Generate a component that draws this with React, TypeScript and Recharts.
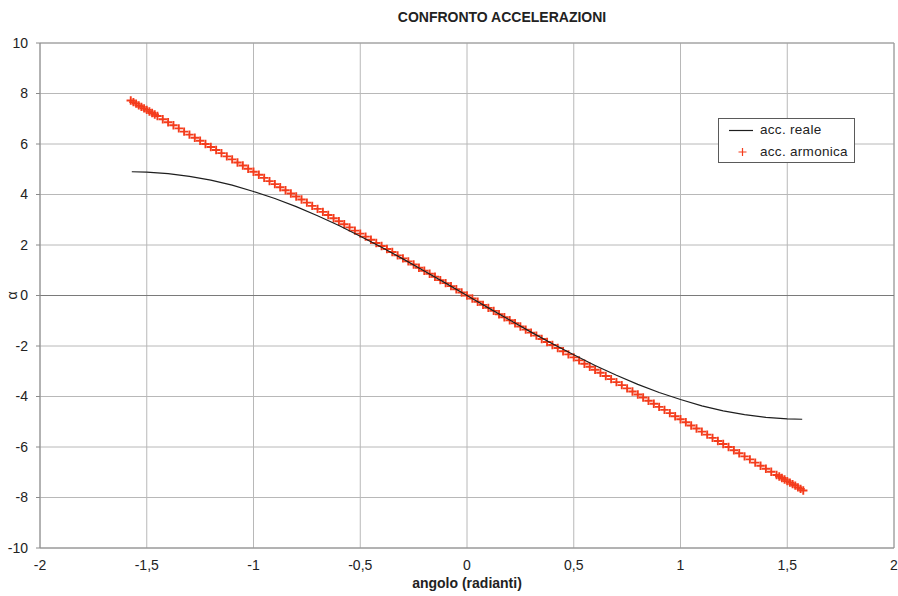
import React from 'react';
import {
  ScatterChart,
  Scatter,
  XAxis,
  YAxis,
  CartesianGrid,
  ReferenceLine,
  Legend,
  Label,
} from 'recharts';

const chartTitle = 'CONFRONTO ACCELERAZIONI';
const xAxisTitle = 'angolo (radianti)';
const yAxisTitle = 'α';
const seriesNames = ['acc. reale', 'acc. armonica'];

const xTicks = [-2, -1.5, -1, -0.5, 0, 0.5, 1, 1.5, 2];
const xTickLabels = ['-2', '-1,5', '-1', '-0,5', '0', '0,5', '1', '1,5', '2'];
const yTicks = [-10, -8, -6, -4, -2, 0, 2, 4, 6, 8, 10];
const yTickLabels = ['-10', '-8', '-6', '-4', '-2', '0', '2', '4', '6', '8', '10'];

// acc. armonica (red crosses)
const armX = [
  -1.575, -1.55, -1.525, -1.5, -1.475, -1.45, -1.425, -1.4, -1.375, -1.35, -1.325, -1.3, -1.275,
  -1.25, -1.225, -1.2, -1.175, -1.15, -1.125, -1.1, -1.075, -1.05, -1.025, -1, -0.975, -0.95,
  -0.925, -0.9, -0.875, -0.85, -0.825, -0.8, -0.775, -0.75, -0.725, -0.7, -0.675, -0.65, -0.625,
  -0.6, -0.575, -0.55, -0.525, -0.5, -0.475, -0.45, -0.425, -0.4, -0.375, -0.35, -0.325, -0.3,
  -0.275, -0.25, -0.225, -0.2, -0.175, -0.15, -0.125, -0.1, -0.075, -0.05, -0.025, 0,
  0.025, 0.05, 0.075, 0.1, 0.125, 0.15, 0.175, 0.2, 0.225, 0.25, 0.275, 0.3, 0.325, 0.35, 0.375,
  0.4, 0.425, 0.45, 0.475, 0.5, 0.525, 0.55, 0.575, 0.6, 0.625, 0.65, 0.675, 0.7, 0.725, 0.75,
  0.775, 0.8, 0.825, 0.85, 0.875, 0.9, 0.925, 0.95, 0.975, 1, 1.025, 1.05, 1.075, 1.1, 1.125,
  1.15, 1.175, 1.2, 1.225, 1.25, 1.275, 1.3, 1.325, 1.35, 1.375, 1.4, 1.425, 1.45, 1.475, 1.5,
  1.525, 1.55, 1.575,
  -1.5625, -1.5375, -1.5125, -1.4875, -1.4625, 1.4625, 1.4875, 1.5125, 1.5375, 1.5625,
];
const armY = [
  7.72, 7.6, 7.47, 7.35, 7.23, 7.11, 6.98, 6.86, 6.74, 6.62, 6.49, 6.37, 6.25, 6.13, 6.0, 5.88,
  5.76, 5.64, 5.51, 5.39, 5.27, 5.15, 5.02, 4.9, 4.78, 4.66, 4.53, 4.41, 4.29, 4.17, 4.04, 3.92,
  3.8, 3.68, 3.55, 3.43, 3.31, 3.19, 3.06, 2.94, 2.82, 2.7, 2.57, 2.45, 2.33, 2.21, 2.08, 1.96,
  1.84, 1.72, 1.59, 1.47, 1.35, 1.23, 1.1, 0.98, 0.86, 0.74, 0.61, 0.49, 0.37, 0.25, 0.12, 0,
  -0.12, -0.25, -0.37, -0.49, -0.61, -0.74, -0.86, -0.98, -1.1, -1.23, -1.35, -1.47, -1.59,
  -1.72, -1.84, -1.96, -2.08, -2.21, -2.33, -2.45, -2.57, -2.7, -2.82, -2.94, -3.06, -3.19,
  -3.31, -3.43, -3.55, -3.68, -3.8, -3.92, -4.04, -4.17, -4.29, -4.41, -4.53, -4.66, -4.78,
  -4.9, -5.02, -5.15, -5.27, -5.39, -5.51, -5.64, -5.76, -5.88, -6.0, -6.13, -6.25, -6.37,
  -6.49, -6.62, -6.74, -6.86, -6.98, -7.11, -7.23, -7.35, -7.47, -7.6, -7.72,
  7.66, 7.53, 7.41, 7.29, 7.17, -7.17, -7.29, -7.41, -7.53, -7.66,
];

// acc. reale (black line)
const realeX = [
  -1.57, -1.5, -1.4, -1.3, -1.2, -1.1, -1, -0.9, -0.8, -0.7, -0.6, -0.5, -0.4, -0.3, -0.2, -0.1,
  0, 0.1, 0.2, 0.3, 0.4, 0.5, 0.6, 0.7, 0.8, 0.9, 1, 1.1, 1.2, 1.3, 1.4, 1.5, 1.57,
];
const realeY = [
  4.9, 4.89, 4.83, 4.72, 4.57, 4.37, 4.12, 3.84, 3.52, 3.16, 2.77, 2.35, 1.91, 1.45, 0.97, 0.49,
  0, -0.49, -0.97, -1.45, -1.91, -2.35, -2.77, -3.16, -3.52, -3.84, -4.12, -4.37, -4.57, -4.72,
  -4.83, -4.89, -4.9,
];

const armData = armX.map((x, i) => ({ x, y: armY[i] }));
const realeData = realeX.map((x, i) => ({ x, y: realeY[i] }));

const RED = '#f43c1c';
const BLACK = '#1e1e1e';
const FONT = '"Liberation Sans", Arial, sans-serif';

const Cross = (props: any) => {
  const { cx, cy } = props;
  if (cx == null || cy == null) return <g />;
  const s = 4.2;
  return (
    <path
      d={`M${cx - s},${cy}H${cx + s}M${cx},${cy - s}V${cy + s}`}
      stroke={RED}
      strokeWidth={1.9}
      fill="none"
    />
  );
};

const NoDot = () => <g />;

const LegendBox = () => (
  <div
    style={{
      position: 'relative',
      width: 137,
      height: 45,
      boxSizing: 'border-box',
      border: '1px solid #5a5a5a',
      background: '#fff',
      fontFamily: FONT,
      fontSize: 13.5,
      color: '#222',
    }}
  >
    <svg width={137} height={45} style={{ position: 'absolute', left: -1, top: -1 }}>
      <line x1={11} y1={12.5} x2={35} y2={12.5} stroke={BLACK} strokeWidth={1.2} />
      <path d="M20.5,34H28.5M24.5,30V38" stroke={RED} strokeWidth={1.2} fill="none" />
    </svg>
    <span style={{ position: 'absolute', left: 41, top: 3, letterSpacing: 0.3, lineHeight: '16px' }}>
      {seriesNames[0]}
    </span>
    <span style={{ position: 'absolute', left: 41, top: 25, letterSpacing: 0.3, lineHeight: '16px' }}>
      {seriesNames[1]}
    </span>
  </div>
);

const YTitle = (props: any) => {
  const vb = props.viewBox || {};
  const cx = 12;
  const cy = (vb.y ?? 43) + (vb.height ?? 505) / 2;
  return (
    <text
      x={cx}
      y={cy}
      transform={`rotate(-90, ${cx}, ${cy})`}
      textAnchor="middle"
      dominantBaseline="central"
      fontFamily={FONT}
      fontSize={14}
      fill="#222"
    >
      {yAxisTitle}
    </text>
  );
};

export default function App() {
  return (
    <div
      style={{
        position: 'fixed',
        left: 0,
        top: 0,
        width: 898,
        height: 596,
        overflow: 'hidden',
        background: '#fff',
        fontFamily: FONT,
      }}
    >
      <div
        style={{
          position: 'absolute',
          left: 302,
          top: 9,
          width: 400,
          textAlign: 'center',
          fontFamily: FONT,
          fontWeight: 'bold',
          fontSize: 14,
          lineHeight: '16px',
          color: '#222',
        }}
      >
        {chartTitle}
      </div>
      <ScatterChart
        width={898}
        height={596}
        margin={{ top: 43, right: 4, bottom: 18, left: 8 }}
      >
        <CartesianGrid stroke="#b8b8b8" strokeWidth={1} />
        <XAxis
          type="number"
          dataKey="x"
          domain={[-2, 2]}
          ticks={xTicks}
          tickFormatter={(v: number) => xTickLabels[xTicks.indexOf(v)] ?? String(v)}
          interval={0}
          height={30}
          tickLine={false}
          tickSize={6}
          tickMargin={6}
          stroke="#8a8a8a"
          tick={{ fill: '#222', fontSize: 14, fontFamily: FONT }}
          allowDataOverflow
        >
          <Label
            value={xAxisTitle}
            position="bottom"
            offset={0}
            style={{ fontWeight: 'bold', fontSize: 14, fill: '#222', fontFamily: FONT }}
          />
        </XAxis>
        <YAxis
          type="number"
          dataKey="y"
          domain={[-10, 10]}
          ticks={yTicks}
          tickFormatter={(v: number) => yTickLabels[yTicks.indexOf(v)] ?? String(v)}
          interval={0}
          width={32}
          tickSize={4}
          tickMargin={8}
          stroke="#8a8a8a"
          tick={{ fill: '#222', fontSize: 14, fontFamily: FONT }}
          allowDataOverflow
        >
          <Label content={<YTitle />} />
        </YAxis>
        <ReferenceLine y={10} stroke="#9a9a9a" strokeWidth={1} />
        <ReferenceLine x={2} stroke="#9a9a9a" strokeWidth={1} />
        <ReferenceLine y={0} stroke="#7a7a7a" strokeWidth={1} />
        <Scatter
          name={seriesNames[1]}
          data={armData}
          shape={<Cross />}
          isAnimationActive={false}
        />
        <Scatter
          name={seriesNames[0]}
          data={realeData}
          line={{ stroke: BLACK, strokeWidth: 1.2 }}
          lineType="joint"
          shape={<NoDot />}
          isAnimationActive={false}
        />
        <Legend
          layout="vertical"
          align="center"
          verticalAlign="middle"
          content={<LegendBox />}
          wrapperStyle={{ position: 'absolute', left: 718, top: 118, width: 137, height: 45 }}
        />
      </ScatterChart>
    </div>
  );
}
